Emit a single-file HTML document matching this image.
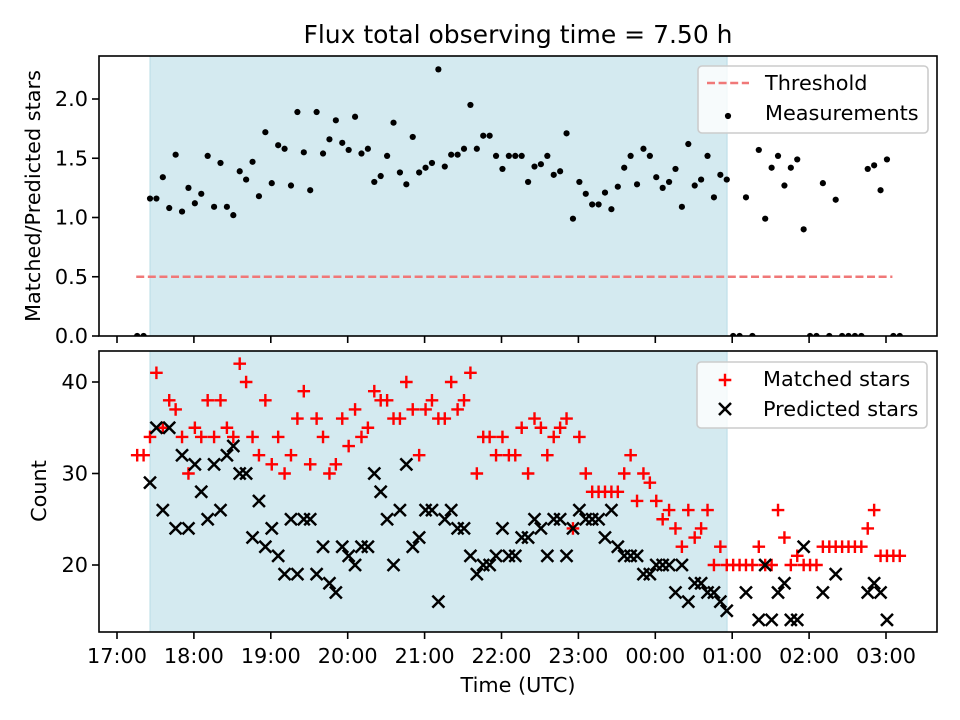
<!DOCTYPE html>
<html><head><meta charset="utf-8"><style>
html,body{margin:0;padding:0;background:#fff;}
svg{display:block;font-family:"DejaVu Sans","Liberation Sans",sans-serif;}
</style></head><body>
<svg id="chart" width="960" height="720" viewBox="0 0 960 720" xmlns="http://www.w3.org/2000/svg">
<rect x="0" y="0" width="960" height="720" fill="#fff"/>
<text x="518" y="43" font-size="25" text-anchor="middle">Flux total observing time = 7.50 h</text>
<g id="top"></g>
<g id="bot"></g>
<text transform="translate(40,196) rotate(-90)" font-size="20.8" text-anchor="middle">Matched/Predicted stars</text>
<text transform="translate(46,491) rotate(-90)" font-size="20.8" text-anchor="middle">Count</text>
<text x="518" y="692" font-size="20.8" text-anchor="middle">Time (UTC)</text>
</svg>
<script>
const startMinute = 15.75; // minutes after 17:00 of first sample
const stepMinute = 5;
const ratioValues = [0,0,1.16,1.16,1.34,1.08,1.53,1.05,1.25,1.12,1.20,1.52,1.09,1.46,1.09,1.02,1.39,1.32,1.47,1.18,1.72,1.29,1.61,1.58,1.27,1.89,1.55,1.23,1.89,1.54,1.66,1.82,1.63,1.57,1.85,1.54,1.58,1.30,1.35,1.52,1.80,1.38,1.28,1.68,1.38,1.42,1.46,2.25,1.43,1.53,1.53,1.58,1.95,1.58,1.69,1.69,1.52,1.41,1.52,1.52,1.52,1.30,1.43,1.45,1.52,1.36,1.39,1.71,0.99,1.30,1.20,1.11,1.11,1.21,1.07,1.26,1.42,1.52,1.28,1.58,1.52,1.34,1.25,1.30,1.41,1.09,1.62,1.27,1.32,1.52,1.17,1.36,1.32,0,0,1.17,0,1.57,0.99,1.42,1.52,1.27,1.42,1.49,0.90,0,0,1.29,0,1.15,0,0,0,0,1.41,1.44,1.23,1.49,0,0];
const matchedValues = [32,32,34,41,35,38,37,34,30,35,34,38,34,38,35,34,42,40,34,32,38,31,34,30,32,36,39,31,36,34,30,31,36,33,37,34,35,39,38,38,36,36,40,37,32,37,38,36,36,40,37,38,41,30,34,34,32,34,32,32,35,30,36,35,32,34,35,36,24,34,30,28,28,28,28,28,30,32,27,30,29,27,25,26,24,22,26,23,24,26,20,22,20,20,20,20,20,22,20,20,26,23,20,21,20,20,20,22,22,22,22,22,22,22,24,26,21,21,21,21];
const predictedValues = [null,null,29,35,26,35,24,32,24,31,28,25,31,26,32,33,30,30,23,27,22,24,21,19,25,19,25,25,19,22,18,17,22,21,20,22,22,30,28,25,20,26,31,22,23,26,26,16,25,26,24,24,21,19,20,20,21,24,21,21,23,23,25,24,21,25,25,21,24,26,25,25,25,23,26,22,21,21,21,19,19,20,20,20,17,20,16,18,18,17,17,16,15,null,null,17,null,14,20,14,17,18,14,14,22,null,null,17,null,19,null,null,null,null,17,18,17,14,null,null];
const threshold = 0.5;
const thresholdRangeMinutes = [15, 605];
const shadeMinutes = [25.75, 476];
const xTickLabels = ["17:00","18:00","19:00","20:00","21:00","22:00","23:00","00:00","01:00","02:00","03:00"];
const ratioTicks = [0.0,0.5,1.0,1.5,2.0];
const countTicks = [20,30,40];

const NS = "http://www.w3.org/2000/svg";
const X0 = 99, X1 = 937;
const TOP = {y0:56, y1:336}, BOT = {y0:351, y1:632};
const xs = m => 117 + m * 76.9 / 60;
const yRatio = v => 336 - v * 118.5;
const yCount = c => 565 - (c - 20) * 9.15;
const times = [];
for (let i = 0; i < ratioValues.length; i++) times.push(startMinute + stepMinute * i);

function mk(tag, attrs, parent) {
  const e = document.createElementNS(NS, tag);
  for (const k in attrs) e.setAttribute(k, attrs[k]);
  parent.appendChild(e);
  return e;
}
const topG = document.getElementById('top');
const botG = document.getElementById('bot');

function panel(g, P, ticks, yf, name, showLabels) {
  const clipId = 'clip-' + name;
  const cp = mk('clipPath', {id: clipId}, g);
  mk('rect', {x: X0, y: P.y0, width: X1 - X0, height: P.y1 - P.y0}, cp);
  const sh = mk('rect', {x: xs(shadeMinutes[0]), y: P.y0, width: xs(shadeMinutes[1]) - xs(shadeMinutes[0]), height: P.y1 - P.y0, fill: '#d4eaf0', stroke: '#b9dce6', 'stroke-width': 1}, g);
  
  
  ticks.forEach(t => {
    const y = yf(t);
    const tl = mk('line', {x1: X0 - 7, x2: X0, y1: y, y2: y, stroke: '#000', 'stroke-width': 1.6}, g);
    
    
    const tx = mk('text', {x: X0 - 11, y: y + 7, 'font-size': 20.8, 'text-anchor': 'end'}, g);
    tx.textContent = name === 'ratio' ? t.toFixed(1) : String(t);
    
    
  });
  xTickLabels.forEach((lab, i) => {
    const x = xs(i * 60);
    const tl = mk('line', {x1: x, x2: x, y1: P.y1, y2: P.y1 + 7, stroke: '#000', 'stroke-width': 1.6}, g);
    
    
    if (showLabels) {
      const tx = mk('text', {x: x, y: P.y1 + 31, 'font-size': 20.8, 'text-anchor': 'middle'}, g);
      tx.textContent = lab;
      
      
    }
  });
  return clipId;
}

// top panel
const c1 = panel(topG, TOP, ratioTicks, yRatio, 'ratio', false);
const dataTop = mk('g', {'clip-path': 'url(#' + c1 + ')'}, topG);
const th = mk('line', {x1: xs(thresholdRangeMinutes[0]), x2: xs(thresholdRangeMinutes[1]), y1: yRatio(threshold), y2: yRatio(threshold), stroke: '#f07878', 'stroke-width': 2.6, 'stroke-dasharray': '8,3.6'}, dataTop);


ratioValues.forEach((v, i) => {
  const c = mk('circle', {cx: xs(times[i]), cy: yRatio(v), r: 3.1, fill: '#000'}, dataTop);
  
  
});
const fr1 = mk('rect', {x: X0, y: TOP.y0, width: X1 - X0, height: TOP.y1 - TOP.y0, fill: 'none', stroke: '#000', 'stroke-width': 1.6}, topG);



// bottom panel
const c2 = panel(botG, BOT, countTicks, yCount, 'count', true);
const dataBot = mk('g', {'clip-path': 'url(#' + c2 + ')'}, botG);
matchedValues.forEach((v, i) => {
  if (v === null) return;
  const x = xs(times[i]), y = yCount(v);
  const p = mk('path', {d: `M${x-6.3},${y}H${x+6.3}M${x},${y-6.3}V${y+6.3}`, stroke: '#ff0000', 'stroke-width': 2.4, fill: 'none'}, dataBot);
  
  
});
predictedValues.forEach((v, i) => {
  if (v === null) return;
  const x = xs(times[i]), y = yCount(v);
  const p = mk('path', {d: `M${x-6},${y-6}L${x+6},${y+6}M${x-6},${y+6}L${x+6},${y-6}`, stroke: '#000', 'stroke-width': 2.5, fill: 'none'}, dataBot);
  
  
});
const fr2 = mk('rect', {x: X0, y: BOT.y0, width: X1 - X0, height: BOT.y1 - BOT.y0, fill: 'none', stroke: '#000', 'stroke-width': 1.6}, botG);



// legends
const lg1 = mk('g', {}, topG);


mk('rect', {x: 698, y: 66, width: 230, height: 67, rx: 4, fill: 'rgba(255,255,255,0.8)', stroke: '#cccccc', 'stroke-width': 1.6}, lg1);
const ls1 = mk('line', {x1: 707, x2: 749, y1: 83, y2: 83, stroke: '#f07878', 'stroke-width': 2.6, 'stroke-dasharray': '8,3.6'}, lg1);


const lt1 = mk('text', {x: 765, y: 90, 'font-size': 20.8}, lg1);
lt1.textContent = 'Threshold';


const ls2 = mk('circle', {cx: 728, cy: 116, r: 3.1, fill: '#000'}, lg1);


const lt2 = mk('text', {x: 765, y: 120, 'font-size': 20.8}, lg1);
lt2.textContent = 'Measurements';



const lg2 = mk('g', {}, botG);


mk('rect', {x: 697, y: 362, width: 230, height: 66, rx: 4, fill: 'rgba(255,255,255,0.8)', stroke: '#cccccc', 'stroke-width': 1.6}, lg2);
const ms = mk('path', {d: 'M718.7,380H731.3M725,373.7V386.3', stroke: '#ff0000', 'stroke-width': 2.4}, lg2);


const mt = mk('text', {x: 763, y: 386, 'font-size': 20.8}, lg2);
mt.textContent = 'Matched stars';


const ps = mk('path', {d: 'M719,403L731,415M719,415L731,403', stroke: '#000', 'stroke-width': 2.5}, lg2);


const pt = mk('text', {x: 763, y: 416, 'font-size': 20.8}, lg2);
pt.textContent = 'Predicted stars';


</script>
</body></html>
